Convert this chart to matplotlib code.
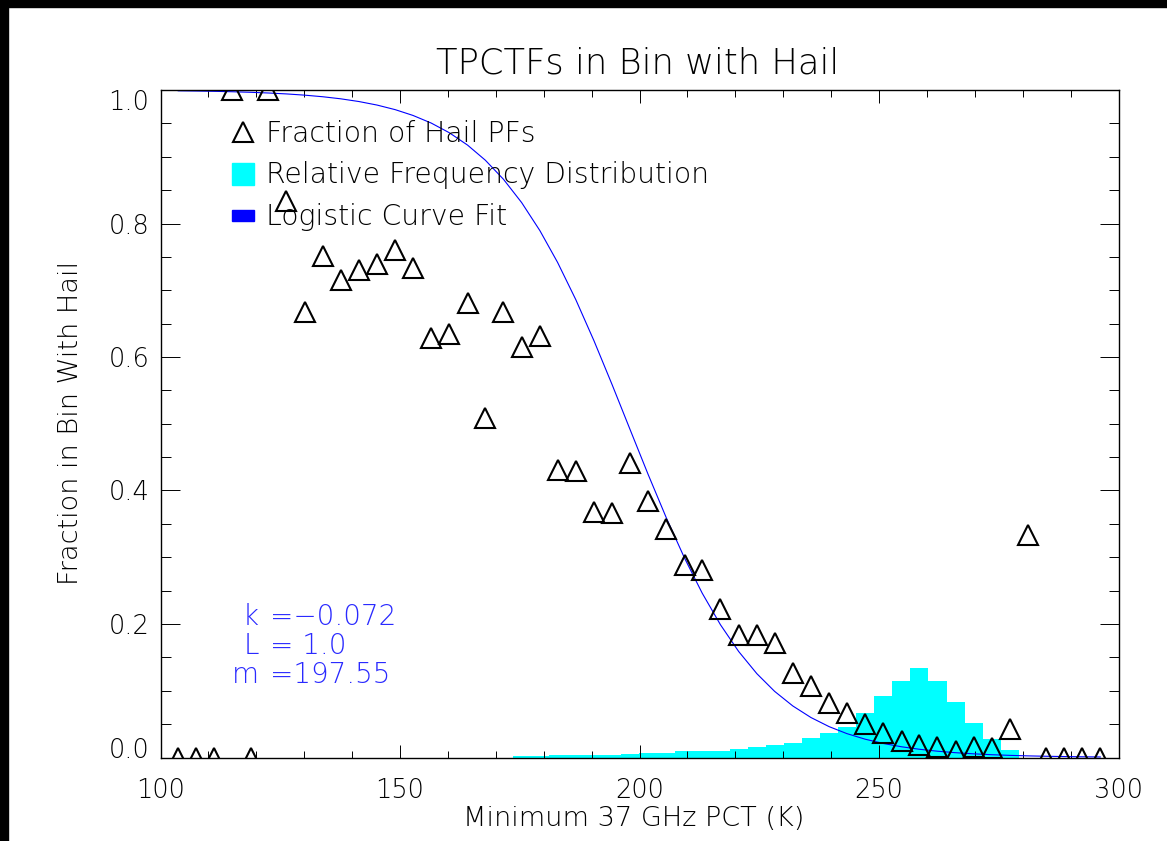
import numpy as np
import matplotlib
matplotlib.use('Agg')
import matplotlib.pyplot as plt
from matplotlib.patches import Rectangle
from matplotlib.lines import Line2D
from matplotlib.ticker import MultipleLocator, FormatStrFormatter

# bin centres of the minimum 37 GHz PCT (K)
bin_centers = [103.7, 107.4, 111.2, 115.0, 118.8, 122.5, 126.3, 130.1, 133.9, 137.6,
               141.4, 145.2, 149.0, 152.7, 156.5, 160.3, 164.1, 167.8, 171.6, 175.4,
               179.2, 182.9, 186.7, 190.5, 194.3, 198.0, 201.8, 205.6, 209.4, 213.1,
               216.9, 220.7, 224.5, 228.2, 232.0, 235.8, 239.6, 243.3, 247.1, 250.9,
               254.7, 258.4, 262.2, 266.0, 269.8, 273.5, 277.3, 281.1, 284.9, 288.6,
               292.4, 296.2]

# fraction of precipitation features with hail in each bin
hail_frac = [0.0, 0.0, 0.0, 1.0, 0.0, 1.0, 0.834, 0.667, 0.751, 0.715,
             0.731, 0.740, 0.760, 0.733, 0.629, 0.635, 0.681, 0.509, 0.667, 0.615,
             0.632, 0.431, 0.429, 0.368, 0.366, 0.441, 0.385, 0.343, 0.289, 0.281,
             0.222, 0.183, 0.183, 0.172, 0.126, 0.107, 0.081, 0.066, 0.050, 0.037,
             0.025, 0.018, 0.015, 0.010, 0.015, 0.014, 0.043, 0.333, 0.0, 0.0,
             0.0, 0.0]

# relative frequency of all features per bin
rel_freq = [0.0, 0.0, 0.0, 0.0, 0.0, 0.0, 0.0, 0.0, 0.0, 0.0,
            0.0, 0.0, 0.0, 0.0, 0.0, 0.0, 0.0, 0.0, 0.0, 0.002,
            0.002, 0.003, 0.003, 0.004, 0.004, 0.005, 0.006, 0.007, 0.009, 0.009,
            0.010, 0.013, 0.016, 0.019, 0.022, 0.029, 0.037, 0.045, 0.067, 0.092,
            0.115, 0.134, 0.115, 0.083, 0.052, 0.027, 0.011, 0.0, 0.0, 0.0,
            0.0, 0.0]

# logistic fit parameters
k_fit = -0.072
L_fit = 1.0
m_fit = 197.55

W, H = 1167, 841


def fxy(x, y):
    # pixel position -> figure fraction
    return x / W, 1 - y / H


plt.rcParams['font.family'] = 'DejaVu Sans'
plt.rcParams['font.weight'] = 200

fig = plt.figure(figsize=(W / 100, H / 100), dpi=100)
fig.patch.set_facecolor('white')

# dark frame strips along the top and left edge
fig.patches.append(Rectangle((0, 1 - 7 / H), 1, 7 / H, transform=fig.transFigure,
                             color='black', zorder=0))
fig.patches.append(Rectangle((0, 0), 8 / W, 1, transform=fig.transFigure,
                             color='black', zorder=0))

ax = fig.add_axes([160.5 / W, 1 - 757.5 / H, 958 / W, 667.5 / H])

x = np.array(bin_centers)
fit = L_fit / (1 + np.exp(-k_fit * (x - m_fit)))

ax.fill_between(x, rel_freq, step='mid', color='cyan', lw=0, zorder=1)
ax.plot(x, fit, color='blue', lw=0.8, zorder=2)
ax.plot(x, hail_frac, ls='none', marker='^', ms=14.5, mfc='none', mec='black',
        mew=1.5, zorder=3)

ax.set_xlim(100, 300)
ax.set_ylim(0, 1)
ax.xaxis.set_major_locator(MultipleLocator(50))
ax.xaxis.set_minor_locator(MultipleLocator(10))
ax.yaxis.set_major_locator(MultipleLocator(0.2))
ax.yaxis.set_minor_locator(MultipleLocator(0.05))
ax.yaxis.set_major_formatter(FormatStrFormatter('%.1f'))

for s in ax.spines.values():
    s.set_linewidth(1.0)
ax.tick_params(which='both', direction='in', top=True, right=True, width=0.7)
ax.tick_params(axis='x', which='major', length=9.4, pad=15, labelsize=18.5)
ax.tick_params(axis='x', which='minor', length=4.7)
ax.tick_params(axis='y', which='major', length=14, pad=8, labelsize=18.5)
ax.tick_params(axis='y', which='minor', length=7.2)

fig.canvas.draw()
for lab in ax.get_yticklabels():
    if lab.get_text() == '1.0':
        lab.set_va('top')
    elif lab.get_text() == '0.0':
        lab.set_va('baseline')

# titles
fig.text(*fxy(638, 73), 'TPCTFs in Bin with Hail', ha='center', va='baseline',
         fontsize=25.5)
fig.text(*fxy(634, 826), 'Minimum 37 GHz PCT (K)', ha='center', va='baseline',
         fontsize=19.5)
fig.text(*fxy(71, 423), 'Fraction in Bin With Hail', ha='center', va='center',
         rotation=90, fontsize=19.5)

# legend
fig.add_artist(Line2D([fxy(243, 132)[0]], [fxy(243, 132)[1]], marker='^', ms=14.5,
                      mfc='none', mec='black', mew=1.5, ls='none',
                      transform=fig.transFigure))
fig.patches.append(Rectangle(fxy(232, 185), 22 / W, 22 / H, transform=fig.transFigure,
                             color='cyan'))
fig.patches.append(Rectangle(fxy(232, 221), 22 / W, 11 / H, transform=fig.transFigure,
                             color='blue'))
for ty, txt in [(142, 'Fraction of Hail PFs'),
                (183, 'Relative Frequency Distribution'),
                (225, 'Logistic Curve Fit')]:
    fig.text(*fxy(266, ty), txt, ha='left', va='baseline', fontsize=20.3)

# fit parameters
for ty, lhs, rhs in [(625, 'k', '=%.3f' % k_fit),
                     (654, 'L', '= %.1f' % L_fit),
                     (683, 'm', '=%.2f' % m_fit)]:
    fig.text(*fxy(259, ty), lhs, ha='right', va='baseline', fontsize=20,
             color='#2a2aff')
    fig.text(*fxy(270, ty), rhs.replace('-', '\u2212'), ha='left', va='baseline',
             fontsize=20, color='#2a2aff')

fig.savefig('out.png', dpi=100)
